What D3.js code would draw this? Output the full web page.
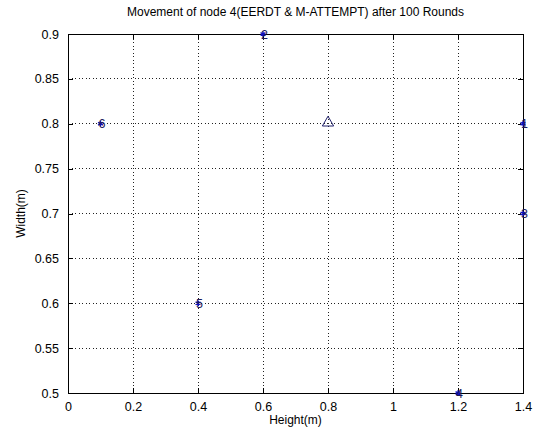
<!DOCTYPE html>
<html><head><meta charset="utf-8">
<script src="https://cdn.jsdelivr.net/npm/d3@7"></script>
<style>body{margin:0;background:#fff;} text{font-family:"Liberation Sans",Arial,sans-serif;}</style>
</head><body>
<script>
const nodeLabels = ["1","2","3","4","5","6"];
const nodeX = [1.4, 0.6, 1.4, 1.2, 0.4, 0.1];
const nodeY = [0.8, 0.9, 0.7, 0.5, 0.6, 0.8];
const sinkX = [0.8];
const sinkY = [0.8];
const xTicks = [0,0.2,0.4,0.6,0.8,1,1.2,1.4];
const yTicks = [0.5,0.55,0.6,0.65,0.7,0.75,0.8,0.85,0.9];
const titleText = "Movement of node 4(EERDT & M-ATTEMPT) after 100 Rounds";

const W=534,H=431;
const m={l:68,r:11,t:34,b:38};
const svg=d3.select("body").append("svg").attr("width",W).attr("height",H);
svg.append("rect").attr("width",W).attr("height",H).attr("fill","#fff");
const x=d3.scaleLinear().domain([0,1.4]).range([m.l,W-m.r]);
const y=d3.scaleLinear().domain([0.5,0.9]).range([H-m.b,m.t]);
const g=svg.append("g");
g.selectAll(".gx").data(xTicks.slice(1,-1)).join("line")
 .attr("x1",d=>x(d)).attr("x2",d=>x(d)).attr("y1",y(0.5)).attr("y2",y(0.9))
 .attr("stroke","#222").attr("stroke-width",1).attr("stroke-dasharray","1,2.5").attr("shape-rendering","crispEdges");
g.selectAll(".gy").data(yTicks.slice(1,-1)).join("line")
 .attr("y1",d=>y(d)).attr("y2",d=>y(d)).attr("x1",x(0)).attr("x2",x(1.4))
 .attr("stroke","#222").attr("stroke-width",1).attr("stroke-dasharray","1,2.5").attr("shape-rendering","crispEdges");
const fmt=d=>d3.format("")(+d.toFixed(2));
const ax=(gen,tr,lab)=>{const a=svg.append("g").attr("transform",tr).call(gen);a.select(".domain").remove();
 a.selectAll("line").attr("stroke","#000").attr("shape-rendering","crispEdges");
 a.selectAll("text").attr("font-size",12.5).attr("fill","#000").style("font-family","Liberation Sans, Arial");
 if(!lab)a.selectAll("text").remove();return a;};
ax(d3.axisBottom(x).tickValues(xTicks).tickFormat(fmt).tickSizeInner(-5).tickPadding(9),`translate(0,${y(0.5)})`,true);
ax(d3.axisTop(x).tickValues(xTicks).tickSizeInner(-5),`translate(0,${y(0.9)})`,false);
ax(d3.axisLeft(y).tickValues(yTicks).tickFormat(fmt).tickSizeInner(-5).tickPadding(9),`translate(${x(0)},0)`,true);
ax(d3.axisRight(y).tickValues(yTicks).tickSizeInner(-5),`translate(${x(1.4)},0)`,false);
svg.append("rect").attr("x",x(0)).attr("y",y(0.9)).attr("width",x(1.4)-x(0)).attr("height",y(0.5)-y(0.9))
 .attr("fill","none").attr("stroke","#000").attr("shape-rendering","crispEdges");
const nodes=nodeX.map((v,i)=>({x:v,y:nodeY[i],l:nodeLabels[i]}));
const ng=svg.append("g");
ng.selectAll("path.star").data(nodes).join("path")
 .attr("d",d3.symbol(d3.symbolAsterisk,22))
 .attr("transform",d=>`translate(${x(d.x)},${y(d.y)})`)
 .attr("stroke","#1010c0").attr("stroke-width",1.3).attr("fill","none");
ng.selectAll("text").data(nodes).join("text")
 .attr("x",d=>x(d.x)-2).attr("y",d=>y(d.y)+4.5)
 .attr("font-size",12.5).attr("fill","#1a1a5a").text(d=>d.l);
svg.selectAll("path.tri").data(sinkX.map((v,i)=>({x:v,y:sinkY[i]}))).join("path")
 .attr("d",d3.symbol(d3.symbolTriangle,55))
 .attr("transform",d=>`translate(${x(d.x)},${y(d.y)-1})`)
 .attr("stroke","#20206a").attr("stroke-width",1).attr("fill","none");
svg.append("text").attr("x",(x(0)+x(1.4))/2).attr("y",16).attr("text-anchor","middle").attr("font-size",12).text(titleText);
svg.append("text").attr("x",(x(0)+x(1.4))/2).attr("y",424).attr("text-anchor","middle").attr("font-size",12).text("Height(m)");
svg.append("text").attr("transform",`translate(25,${(y(0.5)+y(0.9))/2}) rotate(-90)`).attr("text-anchor","middle").attr("font-size",12).text("Width(m)");
</script>
</body></html>
